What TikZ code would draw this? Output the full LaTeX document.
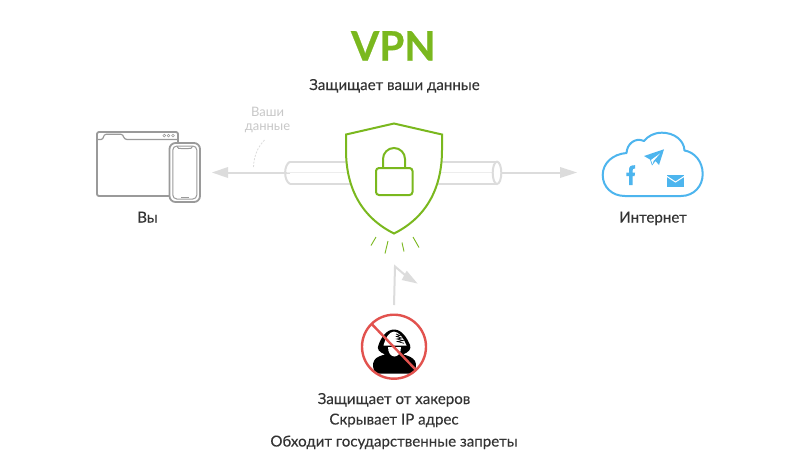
\documentclass[tikz,border=0pt]{standalone}
\usepackage{fontspec}
\setmainfont[FakeBold=0.12]{Lato}
\newfontfamily\plainlato{Lato}
\newfontfamily\heavylato[FakeBold=0.6]{Lato}
\usetikzlibrary{arrows.meta}
\definecolor{vgreen}{HTML}{7AB81E}
\definecolor{vgrey}{HTML}{9A9A9A}
\definecolor{vpale}{HTML}{DCDCDC}
\definecolor{vblue}{HTML}{4DB5EE}
\definecolor{vred}{HTML}{E2524E}
\definecolor{vtext}{HTML}{333333}
\definecolor{vlabel}{HTML}{C8C8C8}
\tikzset{
  lbl/.style={text=vtext,font=\fontsize{15.1}{19}\selectfont,inner sep=0pt,align=center},
  pipeline/.style={draw=vpale,line width=2pt},
  device/.style={draw=vgrey,line width=1.8pt,line join=round},
  guard/.style={draw=vgreen,line width=2pt,line join=miter},
  ray/.style={draw=vgreen,line width=0.9pt},
  flow/.style={draw=vpale,line width=2pt},
  tip/.style={fill=vpale,draw=none},
}
\begin{document}
\begin{tikzpicture}[x=1pt,y=-1pt]
\useasboundingbox (0,0) rectangle (792,459);
\fill[white] (0,0) rectangle (792,459);
% titles
\node[text=vgreen,font=\heavylato\fontsize{40.5}{42}\bfseries\selectfont,inner sep=0pt,anchor=base] (title) at (393.3,60.5) {VPN};
\node[lbl,anchor=base] (sub) at (394.5,90) {Защищает ваши данные};
% flows
\coordinate (youtip) at (212,172.5);
\coordinate (nettip) at (577,172.5);
\coordinate (pipeL) at (290,172.5);
\coordinate (pipeR) at (497,172.5);
\draw[flow] (pipeL) -- (226,172.5);
\fill[tip] (youtip) -- (228,167) -- (228,178) -- cycle;
\draw[flow] (pipeR) -- (561,172.5);
\fill[tip] (nettip) -- (560,167) -- (560,178) -- cycle;
% pipe
\draw[pipeline] (290,161.7) -- (497,161.7) (290,184) -- (497,184);
\draw[pipeline] (290,161.7) .. controls (283.5,165) and (283.5,180.5) .. (290,184);
\draw[draw=vpale!50,line width=1.5pt] (287,172.5) -- (492,172.5);
\draw[pipeline,fill=white] (497,172.85) ellipse [x radius=4.3,y radius=11.15];
% shield
\draw[guard,fill=white] (394,123.5) -- (442,134.5) -- (442,150)
  .. controls (442,190) and (425,218) .. (394,233.5)
  .. controls (363,218) and (346,190) .. (346,150) -- (346,134.5) -- cycle;
\draw[guard] (383,168) -- (383,159) arc[start angle=180,end angle=360,radius=11] -- (405,168);
\draw[guard,rounded corners=3pt] (376,168) rectangle (412.5,195);
\draw[ray] (376,237) -- (371,245.5);
\draw[ray] (388,241) -- (385,253.5);
\draw[ray] (402,242.5) -- (404,251.5);
\draw[ray] (413,237) -- (419,247.5);
% attack arrow
\coordinate (hackTop) at (394,305);
\draw[flow,line join=miter] (hackTop) -- (395,266.5) -- (405,275);
\fill[tip] (417.5,283.5) -- (406.7,270.7) -- (401.7,280) -- cycle;
% window
\draw[device,rounded corners=2pt] (97,132) rectangle (178,196);
\draw[draw=vgrey,line width=1.2pt,line join=round] (97,139.5) -- (101,139.5) .. controls (104,139.5) and (103,134.3) .. (106,134.3)
  -- (121,134.3) .. controls (124,134.3) and (123,139.5) .. (127,139.5) -- (178,139.5);
\foreach \x in {164.3,168.5,173}{\draw[draw=vgrey,line width=0.6pt] (\x,135.6) circle (1.4);}
% phone
\draw[device,fill=white,rounded corners=6pt] (169.5,143) rectangle (200,202);
\draw[draw=vgrey,line width=1pt,rounded corners=4pt] (172.8,146) rectangle (196.8,199);
\draw[draw=vgrey,line width=1pt] (177,146.4) .. controls (178,149) and (179,148.5) .. (181,148.5) -- (188.5,148.5) .. controls (190.5,148.5) and (191.5,149) .. (192.5,146.4);
\draw[draw=vgrey,line width=0.8pt] (181,197) -- (189,197);
% you label
\node[lbl,anchor=base] (you) at (147.5,222.5) {Вы};
% data label
\node[text=vlabel,font=\plainlato\fontsize{13}{14.5}\selectfont,inner sep=0pt,align=center] (data) at (267.5,120) {Ваши\\данные};
\coordinate (dataEnd) at (253.5,167);
\draw[draw=vpale,line width=0.8pt,dash pattern=on 2pt off 1.5pt] (264.5,140) .. controls (258,147) and (254,155) .. (dataEnd);
% cloud
\draw[draw=vblue,line width=2pt,line join=round] (625,196) -- (681,196)
  .. controls (694,196) and (702.7,186) .. (702.7,174)
  .. controls (702.7,161) and (694,152) .. (684.5,150.5)
  .. controls (684,140) and (674,132.7) .. (662,132.7)
  .. controls (654,132.7) and (648,136) .. (644,141)
  .. controls (635,137) and (627,144) .. (626.5,153)
  .. controls (613,154) and (602.7,163) .. (602.7,175)
  .. controls (602.7,187) and (612,196) .. (625,196) -- cycle;
\fill[vblue] (664,149.3) -- (644,156) -- (650,159.5) -- (652,165.5) -- (655.5,161) -- (659,165) -- cycle;
\fill[white] (651,160) -- (660,153.5) -- (653.5,161) -- (652.5,164) -- cycle;
\fill[vblue] (629,185) -- (629,176) -- (626.3,176) -- (626.3,172.7) -- (629,172.7) -- (629,170)
  .. controls (629,166) and (631,165.2) .. (635,165.2) -- (635,168.5)
  .. controls (633,168.5) and (632.6,169) .. (632.6,170.5) -- (632.6,172.7) -- (635,172.7) -- (634.6,176) -- (632.6,176) -- (632.6,185) -- cycle;
\fill[vblue] (667,175) rectangle (684,187);
\draw[white,line width=1pt] (667,176.5) -- (675.5,182) -- (684,176.5);
% hacker
\fill[black] (376,373.5) .. controls (372.5,369) and (372,364) .. (374.5,360)
  .. controls (376.5,357) and (381,355.5) .. (385,354.5)
  .. controls (379,352) and (376.5,349) .. (378.5,345)
  .. controls (381,338) and (386,329.5) .. (394,329.5)
  .. controls (402,329.5) and (407,338) .. (410,345)
  .. controls (411.5,349) and (409,352) .. (403,354.5)
  .. controls (408,355.5) and (413,357.5) .. (415,361)
  .. controls (416.5,364) and (416.5,369) .. (413,373.5) -- cycle;
\fill[white] (383.5,345.5) .. controls (385,339) and (389,331.5) .. (394,331.5)
  .. controls (399,331.5) and (404,339) .. (406.5,345.5) -- cycle;
\fill[white] (388,347) -- (401,347) .. controls (401,353) and (398,356.5) .. (394.5,356.5) .. controls (391,356.5) and (388,353) .. (388,347) -- cycle;
\draw[black,line width=0.7pt] (396,334) -- (400,335.5) -- (396.5,336.5) -- (401.5,338) -- (397,339) -- (403,340.5) -- (397.5,341.5) -- (404,343.3);
\draw[draw=vred,line width=2.4pt] (394,346.7) circle (32);
\draw[draw=vred,line width=2.4pt] (372,324.3) -- (416,370);
% bottom labels
\node[lbl,anchor=base] (l1) at (394,404) {Защищает от хакеров};
\node[lbl,anchor=base] (l2) at (394,424.5) {Скрывает IP адрес};
\node[lbl,anchor=base] (l3) at (394,446.5) {Обходит государственные запреты};
\node[lbl,anchor=base] (net) at (653,222.5) {Интернет};
\end{tikzpicture}
\end{document}
